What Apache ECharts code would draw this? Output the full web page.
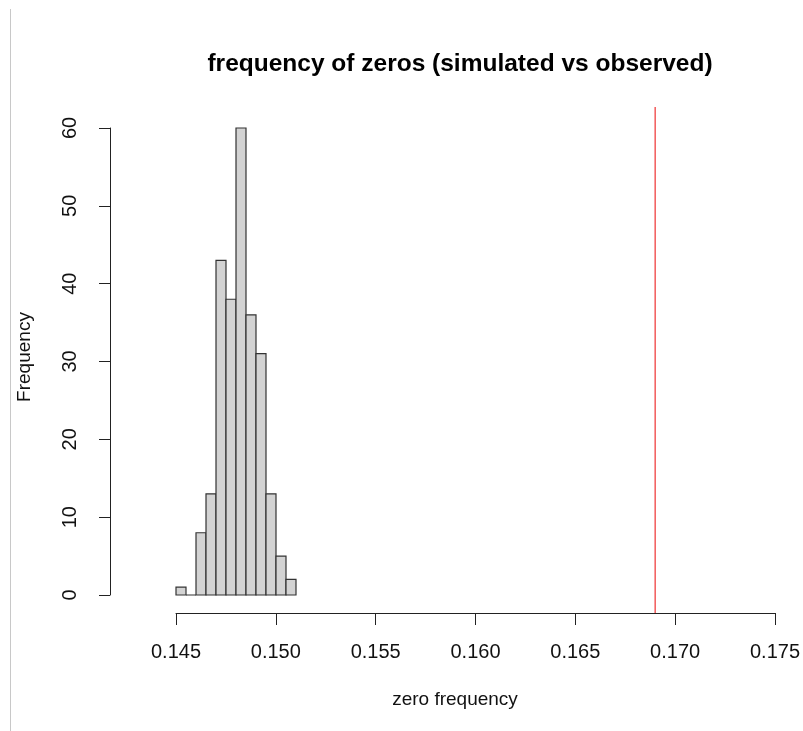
<!DOCTYPE html>
<html>
<head>
<meta charset="utf-8">
<script src="https://cdn.jsdelivr.net/npm/echarts@6/dist/echarts.min.js"></script>
<style>html,body{margin:0;padding:0;background:#fff}#c{width:803px;height:731px}</style>
</head>
<body>
<div id="c"></div>
<script>
// Histogram bins (left and right edges) and counts
var binLeft  = [0.1450, 0.1455, 0.1460, 0.1465, 0.1470, 0.1475, 0.1480, 0.1485, 0.1490, 0.1495, 0.1500, 0.1505];
var binRight = [0.1455, 0.1460, 0.1465, 0.1470, 0.1475, 0.1480, 0.1485, 0.1490, 0.1495, 0.1500, 0.1505, 0.1510];
var counts   = [1, 0, 8, 13, 43, 38, 60, 36, 31, 13, 5, 2];
var observed = [0.169];
var xTicks = [0.145, 0.150, 0.155, 0.160, 0.165, 0.170, 0.175];
var yTicks = [0, 10, 20, 30, 40, 50, 60];

var FONT = '"Liberation Sans", Arial, sans-serif';
var histData = binLeft.map(function (l, i) { return [l, binRight[i], counts[i]]; });

var chart = echarts.init(document.getElementById('c'), null, {renderer: 'canvas'});
chart.setOption({
  backgroundColor: '#ffffff',
  animation: false,
  title: {
    text: 'frequency of zeros (simulated vs observed)',
    left: 455, top: 47, textAlign: 'center',
    textStyle: {fontFamily: FONT, fontSize: 24.5, fontWeight: 'bold', color: '#000'}
  },
  graphic: [
    {type: 'line', shape: {x1: 10.5, y1: 9, x2: 10.5, y2: 731}, style: {stroke: '#c8c8c8', lineWidth: 1}},
    {type: 'text', x: 455, y: 700, style: {text: 'zero frequency', font: '19px ' + FONT, fill: '#111', textAlign: 'center', textVerticalAlign: 'middle'}},
    {type: 'text', x: 25, y: 357, rotation: Math.PI / 2, style: {text: 'Frequency', font: '19px ' + FONT, fill: '#111', textAlign: 'center', textVerticalAlign: 'middle'}}
  ],
  grid: [
    {left: 176, right: 27, top: 128, bottom: 136},
    {left: 176, right: 27, top: 107, bottom: 118}
  ],
  xAxis: [{
    gridIndex: 0, type: 'value', min: xTicks[0], max: xTicks[xTicks.length - 1], show: false
  }, {
    gridIndex: 1, type: 'value', min: xTicks[0], max: xTicks[xTicks.length - 1], interval: 0.005,
    axisLine: {show: true, lineStyle: {color: '#222', width: 1}},
    axisTick: {show: true, length: 12, lineStyle: {color: '#222'}},
    axisLabel: {margin: 29, fontFamily: FONT, fontSize: 20, color: '#111', formatter: function (v) { return v.toFixed(3); }},
    splitLine: {show: false}
  }],
  yAxis: [{
    gridIndex: 0, type: 'value', min: yTicks[0], max: yTicks[yTicks.length - 1], interval: 10,
    offset: 66,
    axisLine: {show: true, lineStyle: {color: '#222', width: 1}},
    axisTick: {show: true, length: 11, lineStyle: {color: '#222'}},
    axisLabel: {rotate: 90, margin: 30, fontFamily: FONT, fontSize: 20, color: '#111'},
    splitLine: {show: false}
  }, {
    gridIndex: 1, type: 'value', min: 0, max: 1, show: false
  }],
  series: [{
    type: 'custom', xAxisIndex: 0, yAxisIndex: 0,
    data: histData,
    renderItem: function (params, api) {
      var p0 = api.coord([api.value(0), 0]);
      var p1 = api.coord([api.value(1), api.value(2)]);
      return {
        type: 'rect',
        shape: {x: p0[0], y: p1[1], width: p1[0] - p0[0], height: p0[1] - p1[1]},
        style: {fill: '#d3d3d3', stroke: '#333', lineWidth: 1.2}
      };
    }
  }, {
    type: 'custom', xAxisIndex: 1, yAxisIndex: 1,
    data: observed.map(function (v) { return [v]; }),
    renderItem: function (params, api) {
      var a = api.coord([api.value(0), 0]);
      var b = api.coord([api.value(0), 1]);
      return {
        type: 'line',
        shape: {x1: a[0], y1: a[1], x2: b[0], y2: b[1]},
        style: {stroke: '#f25a5a', lineWidth: 1.5}
      };
    }
  }]
});
</script>
</body>
</html>
